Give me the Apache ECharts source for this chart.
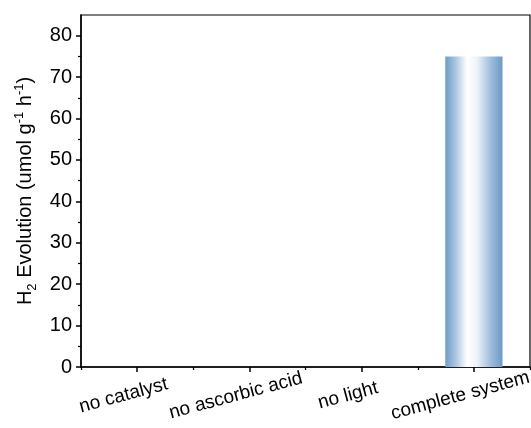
<!DOCTYPE html>
<html>
<head>
<meta charset="utf-8">
<script src="https://cdn.jsdelivr.net/npm/echarts@6/dist/echarts.min.js"></script>
<style>
  html, body { margin: 0; padding: 0; background: #fff; }
  #chart { width: 531px; height: 428px; }
</style>
</head>
<body>
<div id="chart"></div>
<script>
  const categories = ["no catalyst", "no ascorbic acid", "no light", "complete system"];
  const h2Values = [0, 0, 0, 75];
  const yTicks = [0, 10, 20, 30, 40, 50, 60, 70, 80];
  const yMinorTicks = [5, 15, 25, 35, 45, 55, 65, 75];

  const font = "Liberation Sans, Arial, sans-serif";

  const chart = echarts.init(document.getElementById("chart"));

  // horizontal gradient: blue edges, bright centre
  const barColor = new echarts.graphic.LinearGradient(0, 0, 1, 0, [
    { offset: 0, color: "#6f9cc7" },
    { offset: 0.18, color: "#a9c5e0" },
    { offset: 0.38, color: "#ffffff" },
    { offset: 0.55, color: "#eef4fa" },
    { offset: 0.8, color: "#9dbcdb" },
    { offset: 1, color: "#6d9ac5" },
  ]);

  chart.setOption({
    animation: false,
    grid: {
      left: 81,
      right: 1,
      top: 15,
      bottom: 61,
      outerBoundsMode: "none",
      show: true,
      borderColor: "#000",
      borderWidth: 1.2,
      backgroundColor: "transparent",
    },
    xAxis: [
      {
        type: "category",
        data: categories,
        axisLine: { lineStyle: { color: "#000", width: 1.5 } },
        axisTick: { show: true, alignWithLabel: true, length: 5, lineStyle: { color: "#000", width: 1.5 } },
        axisLabel: {
          rotate: 15,
          align: "center",
          margin: 25,
          padding: [0, 28, 0, 0],
          color: "#000",
          fontSize: 19,
          fontFamily: font,
        },
        splitLine: { show: false },
      },
      {
        // minor ticks on category boundaries
        type: "category",
        data: categories,
        position: "bottom",
        axisLine: { show: false },
        axisTick: { show: true, interval: 0, length: 3, lineStyle: { color: "#000", width: 1.2 } },
        axisLabel: { show: false, interval: 0 },
        splitLine: { show: false },
      },
    ],
    yAxis: [
      {
        type: "value",
        min: 0,
        max: 85,
        interval: 10,
        name: "{t|H}{sub|2}{t| Evolution (umol g}{sup|-1}{t| h}{sup|-1}{t|)}",
        nameLocation: "middle",
        nameRotate: 90,
        nameGap: 42,
        nameTextStyle: {
          color: "#000",
          fontFamily: font,
          rich: {
            t: { fontSize: 20, fontFamily: font, color: "#000", lineHeight: 26, verticalAlign: "middle" },
            sub: { fontSize: 13, fontFamily: font, color: "#000", lineHeight: 26, verticalAlign: "bottom" },
            sup: { fontSize: 13, fontFamily: font, color: "#000", lineHeight: 26, verticalAlign: "top" },
          },
        },
        axisLine: { show: true, lineStyle: { color: "#000", width: 1.5 } },
        axisTick: { show: true, length: 5, customValues: yTicks, lineStyle: { color: "#000", width: 1.5 } },
        axisLabel: { customValues: yTicks, color: "#000", fontSize: 20, fontFamily: font, margin: 9 },
        splitLine: { show: false },
      },
      {
        // minor ticks at the fives
        type: "value",
        min: 0,
        max: 85,
        interval: 5,
        position: "left",
        axisLine: { show: false },
        axisTick: { show: true, length: 3, customValues: yMinorTicks, lineStyle: { color: "#000", width: 1.2 } },
        axisLabel: { show: false },
        splitLine: { show: false },
      },
    ],
    series: [
      {
        type: "bar",
        data: h2Values,
        barWidth: "51%",
        itemStyle: { color: barColor },
      },
    ],
  });
</script>
</body>
</html>
